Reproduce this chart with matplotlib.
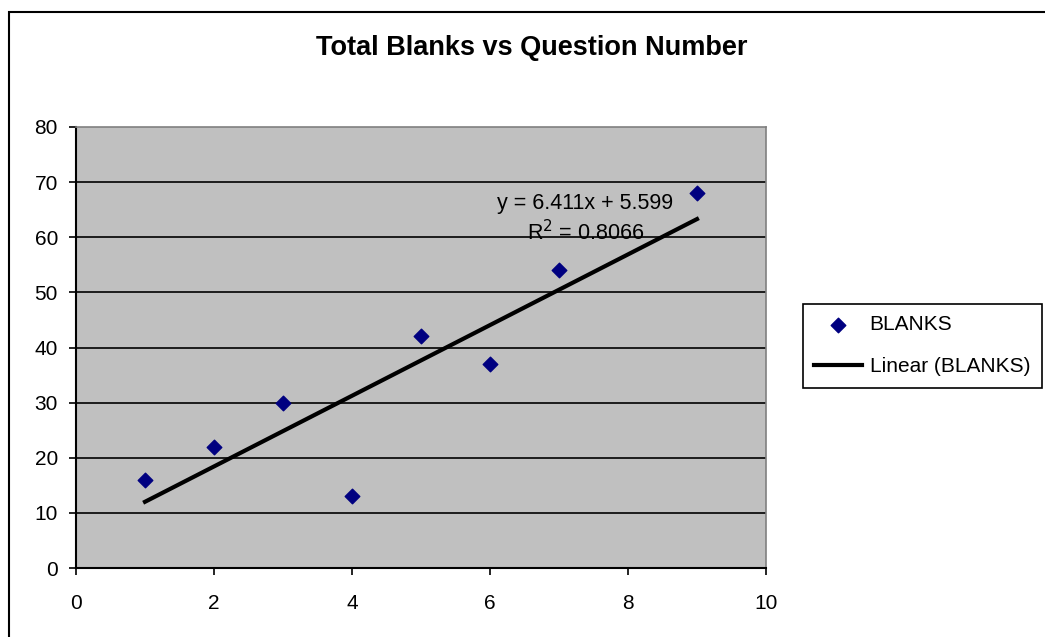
import numpy as np
import matplotlib.pyplot as plt
from matplotlib.patches import Rectangle

plt.rcParams['font.family'] = ['Liberation Sans', 'DejaVu Sans']

# question number vs total blanks
question = [1, 2, 3, 4, 5, 6, 7, 9]
blanks = [16, 22, 30, 13, 42, 37, 54, 68]

x_ticks = [0, 2, 4, 6, 8, 10]
y_ticks = [0, 10, 20, 30, 40, 50, 60, 70, 80]

# least squares trendline
slope, intercept = np.polyfit(question, blanks, 1)
fit = np.polyval([slope, intercept], question)
r2 = 1 - np.sum((np.array(blanks) - fit) ** 2) / np.sum((np.array(blanks) - np.mean(blanks)) ** 2)

W, H = 1045, 637
fig = plt.figure(figsize=(W / 100, H / 100), dpi=100)
fig.patch.set_facecolor('white')

# chart frame
fig.patches.append(Rectangle((8.5 / W, -0.01), 1.05, (H - 11.5) / H + 0.01,
                             transform=fig.transFigure, fill=False,
                             edgecolor='black', linewidth=1.5))

ax = fig.add_axes([76 / W, 1 - 568 / H, (766 - 76) / W, (568 - 127) / H])
ax.set_facecolor('#C0C0C0')

ax.set_xlim(0, 10)
ax.set_ylim(0, 80)
ax.set_xticks(x_ticks)
ax.set_yticks(y_ticks)
ax.tick_params(direction='out', length=5, width=1.2, labelsize=15, colors='black')
ax.tick_params(axis='x', pad=14)
ax.tick_params(axis='y', pad=8)

for y in y_ticks[1:-1]:
    ax.axhline(y, color='black', linewidth=1.2, zorder=1)

ax.spines['left'].set_color('black')
ax.spines['left'].set_linewidth(1.5)
ax.spines['bottom'].set_color('black')
ax.spines['bottom'].set_linewidth(1.5)
ax.spines['top'].set_color('#808080')
ax.spines['right'].set_color('#808080')
ax.spines['top'].set_linewidth(1.2)
ax.spines['right'].set_linewidth(1.2)

ax.scatter(question, blanks, marker='D', s=55, color='#000080', zorder=3, label='BLANKS')
ax.plot([question[0], question[-1]], np.polyval([slope, intercept], [question[0], question[-1]]),
        color='black', linewidth=3, zorder=2, label='Linear (BLANKS)')

ax.text(7.38, 66.2, f'y = {slope:.3f}x + {intercept:.3f}', ha='center', va='center', fontsize=15.5, zorder=1.5)
ax.text(7.38, 60.8, f'R$^2$ = {r2:.4f}', ha='center', va='center', fontsize=15.5, zorder=1.5)

fig.text(532 / W, 1 - 48 / H, 'Total Blanks vs Question Number', ha='center', va='center',
         fontsize=19.5, fontweight='bold')

leg = fig.legend(loc='upper left', bbox_to_anchor=(803 / W, 1 - 304 / H), fontsize=15,
                 frameon=True, fancybox=False, edgecolor='black', framealpha=1,
                 borderpad=0.55, handlelength=2.3, handletextpad=0.35, labelspacing=1.1,
                 borderaxespad=0)
leg.get_frame().set_linewidth(1.2)

fig.savefig('out.png', dpi=100)
